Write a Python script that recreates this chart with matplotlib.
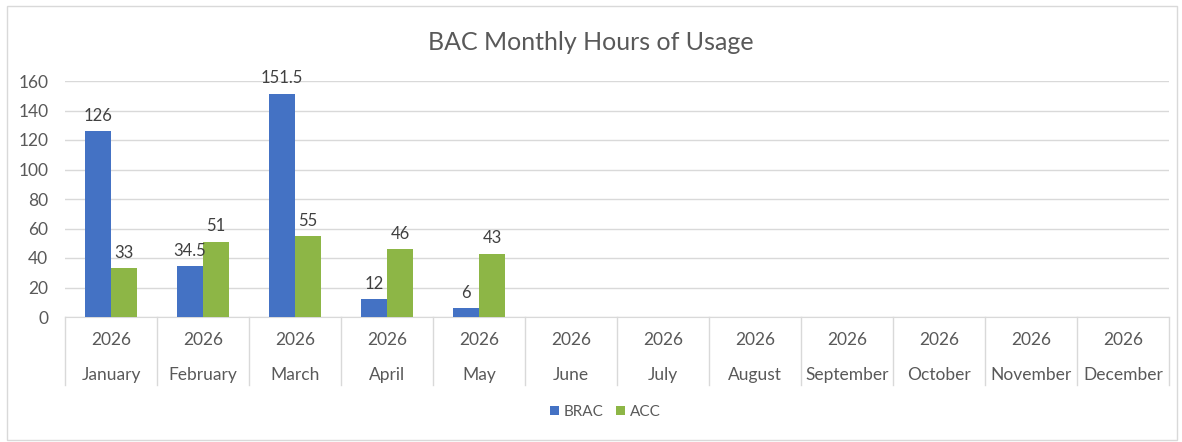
import matplotlib.pyplot as plt
import numpy as np
from matplotlib.patches import Rectangle

# -----------------------------
# Data
# -----------------------------
months = ["January", "February", "March", "April", "May", "June",
          "July", "August", "September", "October", "November", "December"]
years = ["2026"] * 12
brac = [126, 34.5, 151.5, 12, 6, None, None, None, None, None, None, None]
acc = [33, 51, 55, 46, 43, None, None, None, None, None, None, None]

blue = "#4472C4"
green = "#8DB646"
text_col = "#595959"
grid_col = "#D9D9D9"

plt.rcParams['font.family'] = ['Lato', 'DejaVu Sans']

fig = plt.figure(figsize=(11.82, 4.42), dpi=100)
ax = fig.add_axes([65 / 1182, 1 - 317 / 442, (1169 - 65) / 1182, (317 - 81) / 442])

# frame around chart
fig.patches.append(Rectangle((7 / 1182, 2 / 442), 1170 / 1182, 434 / 442,
                             transform=fig.transFigure, fill=False,
                             edgecolor="#D9D9D9", linewidth=1))

x = np.arange(len(months))
w = 0.285
b_vals = [v if v is not None else 0 for v in brac]
a_vals = [v if v is not None else 0 for v in acc]
ax.bar(x - w / 2, b_vals, w, color=blue, label="BRAC", zorder=3)
ax.bar(x + w / 2, a_vals, w, color=green, label="ACC", zorder=3)

# data labels
for i in range(len(months)):
    if brac[i] is not None:
        ax.text(x[i] - w / 2, brac[i] + 5, f"{brac[i]:g}", ha="center", va="bottom",
                fontsize=12, color="#404040", zorder=4)
    if acc[i] is not None:
        ax.text(x[i] + w / 2, acc[i] + 5, f"{acc[i]:g}", ha="center", va="bottom",
                fontsize=12, color="#404040", zorder=4)

ax.set_xlim(-0.5, len(months) - 0.5)
ax.set_ylim(0, 160)
ax.set_yticks(range(0, 161, 20))
ax.yaxis.grid(True, color=grid_col, linewidth=1)
ax.set_axisbelow(True)
for s in ["top", "right", "left"]:
    ax.spines[s].set_visible(False)
ax.spines["bottom"].set_color(grid_col)
ax.tick_params(axis="y", length=0, labelsize=12.5, labelcolor=text_col, pad=12)
ax.set_xticks([])

# multi-level category axis
for i in range(len(months) + 1):
    ax.plot([i - 0.5, i - 0.5], [0, -0.29], transform=ax.get_xaxis_transform(),
            color=grid_col, linewidth=1, clip_on=False)
for i in range(len(months)):
    ax.text(x[i], -0.098, years[i], transform=ax.get_xaxis_transform(),
            ha="center", va="center", fontsize=12.5, color=text_col)
    ax.text(x[i], -0.245, months[i], transform=ax.get_xaxis_transform(),
            ha="center", va="center", fontsize=12.5, color=text_col)

fig.text(0.5, 1 - 42 / 442, "BAC Monthly Hours of Usage", ha="center", va="center",
         fontsize=18, color=text_col)

fig.legend(loc="center", bbox_to_anchor=(0.512, 1 - 412 / 442), ncol=2, frameon=False,
           fontsize=11, labelcolor=text_col, handlelength=0.6, handleheight=0.6,
           handletextpad=0.3, columnspacing=0.8)

fig.savefig("out.png", dpi=100)
